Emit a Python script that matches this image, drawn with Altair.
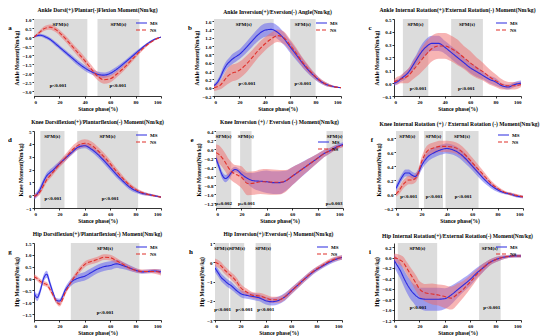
import altair as alt
import pandas as pd

# ---------------- data ----------------
STANCE = [0, 2.5, 5, 7.5, 10, 12.5, 15, 17.5, 20, 25, 30, 35, 40, 45, 50, 55, 60, 65, 70, 75, 80, 85, 90, 95, 100]
GROUPS = ["MS", "NS"]

A_MS = [0.02, 0.08, 0.1, 0.06, -0.02, -0.12, -0.25, -0.4, -0.55, -0.85, -1.15, -1.45, -1.7, -1.9, -2.05, -2.1, -2.0, -1.78, -1.5, -1.2, -0.9, -0.6, -0.33, -0.12, 0.0]
A_MS_SD = [0.05, 0.07, 0.08, 0.09, 0.1, 0.1, 0.11, 0.12, 0.12, 0.13, 0.14, 0.15, 0.15, 0.15, 0.15, 0.15, 0.15, 0.14, 0.13, 0.12, 0.1, 0.08, 0.06, 0.04, 0.02]
A_NS = [0.0, 0.15, 0.3, 0.45, 0.52, 0.55, 0.5, 0.4, 0.25, -0.1, -0.5, -0.9, -1.3, -1.75, -2.15, -2.35, -2.3, -2.05, -1.75, -1.4, -1.03, -0.68, -0.38, -0.15, 0.0]
A_NS_SD = [0.04, 0.08, 0.1, 0.12, 0.13, 0.14, 0.15, 0.15, 0.16, 0.17, 0.18, 0.2, 0.2, 0.22, 0.22, 0.22, 0.2, 0.18, 0.16, 0.14, 0.12, 0.1, 0.07, 0.04, 0.02]

B_MS = [0.05, 0.12, 0.25, 0.42, 0.55, 0.63, 0.7, 0.75, 0.8, 0.95, 1.12, 1.28, 1.38, 1.4, 1.33, 1.18, 0.98, 0.78, 0.58, 0.4, 0.25, 0.13, 0.06, 0.02, 0.0]
B_MS_SD = [0.04, 0.06, 0.08, 0.1, 0.1, 0.11, 0.12, 0.12, 0.12, 0.13, 0.14, 0.15, 0.16, 0.16, 0.16, 0.15, 0.14, 0.13, 0.11, 0.09, 0.07, 0.05, 0.04, 0.02, 0.01]
B_NS = [0.0, 0.02, 0.06, 0.15, 0.25, 0.32, 0.36, 0.38, 0.42, 0.55, 0.72, 0.9, 1.05, 1.17, 1.25, 1.2, 1.02, 0.82, 0.6, 0.42, 0.26, 0.14, 0.06, 0.02, 0.0]
B_NS_SD = [0.08, 0.08, 0.1, 0.14, 0.18, 0.2, 0.2, 0.2, 0.2, 0.2, 0.18, 0.17, 0.16, 0.15, 0.15, 0.15, 0.14, 0.13, 0.11, 0.09, 0.07, 0.05, 0.04, 0.02, 0.01]

C_MS = [0.0, 0.01, 0.03, 0.05, 0.07, 0.1, 0.14, 0.18, 0.22, 0.28, 0.31, 0.31, 0.28, 0.24, 0.2, 0.16, 0.12, 0.09, 0.06, 0.03, 0.01, -0.02, -0.03, -0.01, 0.0]
C_MS_SD = [0.02, 0.02, 0.02, 0.03, 0.03, 0.03, 0.04, 0.04, 0.05, 0.06, 0.06, 0.06, 0.05, 0.05, 0.05, 0.04, 0.04, 0.04, 0.03, 0.03, 0.03, 0.02, 0.02, 0.02, 0.02]
C_NS = [0.01, 0.02, 0.03, 0.04, 0.05, 0.07, 0.1, 0.13, 0.16, 0.22, 0.27, 0.29, 0.29, 0.27, 0.24, 0.2, 0.16, 0.12, 0.09, 0.05, 0.02, -0.01, -0.02, -0.02, -0.01]
C_NS_SD = [0.02, 0.03, 0.03, 0.04, 0.05, 0.06, 0.07, 0.08, 0.09, 0.1, 0.1, 0.1, 0.1, 0.1, 0.1, 0.09, 0.09, 0.08, 0.07, 0.06, 0.05, 0.04, 0.03, 0.03, 0.02]

D_MS = [-0.15, 0.1, 0.5, 1.05, 1.5, 1.75, 1.95, 2.2, 2.45, 2.9, 3.35, 3.75, 3.85, 3.6, 3.2, 2.7, 2.15, 1.6, 1.1, 0.65, 0.35, 0.15, 0.05, -0.05, -0.15]
D_MS_SD = [0.2, 0.22, 0.25, 0.25, 0.25, 0.25, 0.25, 0.22, 0.2, 0.2, 0.2, 0.2, 0.2, 0.22, 0.25, 0.25, 0.25, 0.25, 0.22, 0.2, 0.17, 0.13, 0.1, 0.08, 0.06]
D_NS = [-0.1, 0.05, 0.3, 0.75, 1.2, 1.5, 1.8, 2.1, 2.4, 2.95, 3.5, 3.9, 4.05, 3.9, 3.5, 3.0, 2.45, 1.85, 1.3, 0.8, 0.45, 0.2, 0.05, -0.05, -0.15]
D_NS_SD = [0.15, 0.18, 0.2, 0.22, 0.22, 0.22, 0.22, 0.22, 0.25, 0.28, 0.3, 0.3, 0.3, 0.3, 0.3, 0.3, 0.28, 0.25, 0.22, 0.18, 0.15, 0.12, 0.1, 0.08, 0.06]

E_MS = [-0.2, -0.4, -0.58, -0.65, -0.6, -0.5, -0.45, -0.48, -0.55, -0.65, -0.7, -0.71, -0.72, -0.74, -0.74, -0.7, -0.6, -0.5, -0.4, -0.3, -0.2, -0.1, -0.03, 0.05, 0.1]
E_MS_SD = [0.08, 0.08, 0.08, 0.08, 0.07, 0.07, 0.06, 0.06, 0.08, 0.12, 0.18, 0.22, 0.25, 0.25, 0.25, 0.22, 0.2, 0.17, 0.15, 0.12, 0.1, 0.08, 0.06, 0.05, 0.05]
E_NS = [-0.08, -0.12, -0.2, -0.3, -0.42, -0.5, -0.55, -0.58, -0.62, -0.76, -0.75, -0.72, -0.72, -0.73, -0.73, -0.7, -0.6, -0.5, -0.4, -0.3, -0.2, -0.1, -0.03, 0.04, 0.08]
E_NS_SD = [0.18, 0.2, 0.2, 0.2, 0.2, 0.2, 0.2, 0.22, 0.24, 0.26, 0.26, 0.27, 0.28, 0.28, 0.27, 0.24, 0.2, 0.17, 0.14, 0.12, 0.1, 0.08, 0.06, 0.05, 0.04]

F_MS = [0.08, 0.17, 0.25, 0.3, 0.3, 0.27, 0.25, 0.3, 0.4, 0.53, 0.59, 0.63, 0.65, 0.63, 0.58, 0.5, 0.4, 0.3, 0.2, 0.12, 0.06, 0.02, 0.0, -0.03, -0.04]
F_MS_SD = [0.05, 0.05, 0.05, 0.05, 0.05, 0.05, 0.05, 0.05, 0.06, 0.07, 0.07, 0.07, 0.07, 0.07, 0.07, 0.07, 0.06, 0.06, 0.05, 0.04, 0.03, 0.02, 0.02, 0.02, 0.02]
F_NS = [0.0, 0.05, 0.12, 0.17, 0.2, 0.2, 0.22, 0.3, 0.45, 0.62, 0.66, 0.68, 0.68, 0.67, 0.63, 0.55, 0.45, 0.35, 0.25, 0.15, 0.08, 0.03, 0.0, -0.02, -0.04]
F_NS_SD = [0.04, 0.05, 0.06, 0.06, 0.06, 0.06, 0.06, 0.06, 0.07, 0.08, 0.08, 0.08, 0.08, 0.08, 0.08, 0.08, 0.07, 0.06, 0.05, 0.04, 0.03, 0.02, 0.02, 0.02, 0.02]

G_MS = [-0.6, -0.8, -0.5, 0.0, 0.18, -0.2, -0.6, -0.92, -0.95, -0.45, -0.12, 0.02, 0.1, 0.25, 0.4, 0.5, 0.55, 0.62, 0.55, 0.45, 0.35, 0.28, 0.3, 0.32, 0.28]
G_MS_SD = [0.15, 0.15, 0.15, 0.15, 0.15, 0.15, 0.12, 0.1, 0.1, 0.12, 0.15, 0.17, 0.18, 0.18, 0.18, 0.18, 0.18, 0.17, 0.15, 0.12, 0.1, 0.08, 0.08, 0.08, 0.1]
G_NS = [0.08, 0.0, -0.12, -0.2, -0.25, -0.45, -0.7, -0.95, -1.08, -0.55, -0.08, 0.3, 0.6, 0.72, 0.8, 0.9, 0.88, 0.75, 0.6, 0.45, 0.35, 0.3, 0.3, 0.3, 0.25]
G_NS_SD = [0.1, 0.1, 0.1, 0.1, 0.1, 0.1, 0.1, 0.1, 0.1, 0.1, 0.1, 0.12, 0.12, 0.12, 0.12, 0.12, 0.12, 0.12, 0.1, 0.1, 0.08, 0.08, 0.08, 0.1, 0.12]

H_MS = [-0.3, -0.55, -0.8, -0.95, -1.1, -1.2, -1.35, -1.5, -1.62, -1.72, -1.78, -1.85, -2.0, -2.05, -1.98, -1.8, -1.5, -1.2, -0.9, -0.62, -0.38, -0.18, 0.0, 0.15, 0.25]
H_MS_SD = [0.2, 0.2, 0.2, 0.2, 0.2, 0.2, 0.18, 0.18, 0.18, 0.18, 0.18, 0.18, 0.2, 0.2, 0.2, 0.2, 0.18, 0.16, 0.15, 0.14, 0.13, 0.12, 0.12, 0.12, 0.12]
H_NS = [0.0, -0.08, -0.2, -0.4, -0.55, -0.7, -0.85, -1.05, -1.3, -1.55, -1.72, -1.75, -1.85, -1.95, -1.95, -1.8, -1.5, -1.2, -0.9, -0.6, -0.35, -0.15, 0.05, 0.18, 0.25]
H_NS_SD = [0.2, 0.2, 0.2, 0.2, 0.2, 0.2, 0.2, 0.2, 0.2, 0.18, 0.16, 0.16, 0.16, 0.16, 0.16, 0.16, 0.16, 0.15, 0.14, 0.13, 0.12, 0.12, 0.12, 0.12, 0.12]

I_MS = [-0.05, -0.15, -0.25, -0.38, -0.5, -0.6, -0.68, -0.74, -0.78, -0.8, -0.8, -0.8, -0.79, -0.72, -0.62, -0.52, -0.42, -0.3, -0.2, -0.1, -0.04, 0.0, 0.02, 0.03, 0.03]
I_MS_SD = [0.12, 0.14, 0.15, 0.16, 0.17, 0.18, 0.18, 0.2, 0.2, 0.22, 0.22, 0.22, 0.2, 0.18, 0.15, 0.13, 0.12, 0.1, 0.08, 0.06, 0.05, 0.04, 0.03, 0.03, 0.03]
I_NS = [0.0, -0.02, -0.05, -0.1, -0.2, -0.3, -0.4, -0.5, -0.6, -0.68, -0.7, -0.72, -0.75, -0.78, -0.7, -0.6, -0.47, -0.33, -0.2, -0.1, -0.04, 0.0, 0.02, 0.03, 0.03]
I_NS_SD = [0.08, 0.09, 0.1, 0.11, 0.12, 0.13, 0.14, 0.15, 0.15, 0.17, 0.2, 0.2, 0.22, 0.22, 0.2, 0.16, 0.13, 0.1, 0.08, 0.06, 0.05, 0.04, 0.03, 0.03, 0.03]

TITLES = [
    "Ankle Dorsi(+)/Plantar(-)Flexion Moment(Nm/kg)",
    "Ankle Inversion(+)/Eversion(-) Angle(Nm/kg)",
    "Ankle Internal Rotation(+)/External Rotation(-) Moment(Nm/kg)",
    "Knee Dorsiflexion(+)/Plantarflexion(-) Moment(Nm/kg)",
    "Knee Inversion (+) / Eversion (-) Moment(Nm/kg)",
    "Knee Internal Rotation (+) / External Rotation (-) Moment(Nm/kg)",
    "Hip Dorsiflexion(+)/Plantarflexion(-) Moment(Nm/kg)",
    "Hip Inversion(+)/Eversion(-) Moment(Nm/kg)",
    "Hip Internal Rotation(+)/External Rotation(-) Moment(Nm/kg)",
]
LETTERS = ["a", "b", "c", "d", "e", "f", "g", "h", "i"]
YTITLES = ["Ankle Moment(Nm/kg)"] * 3 + ["Knee Moment(Nm/kg)"] * 3 + ["Hip Moment(Nm/kg)"] * 3
YDOMAINS = [[-3.25, 1.0], [-0.2, 1.65], [-0.1, 0.5], [-1, 5], [-1.3, 0.4], [-0.2, 0.9], [-1.75, 1.5], [-3, 1], [-1.2, 0.28]]
YTICKS = [
    [-3.0, -2.5, -2.0, -1.5, -1.0, -0.5, 0.0, 0.5, 1.0],
    [-0.2, 0.0, 0.2, 0.4, 0.6, 0.8, 1.0, 1.2, 1.4, 1.6],
    [-0.1, 0.0, 0.1, 0.2, 0.3, 0.4, 0.5],
    [-1, 0, 1, 2, 3, 4, 5],
    [-1.2, -1.0, -0.8, -0.6, -0.4, -0.2, 0.0, 0.2, 0.4],
    [-0.2, 0.0, 0.2, 0.4, 0.6, 0.8],
    [-1.5, -1.0, -0.5, 0.0, 0.5, 1.0, 1.5],
    [-3, -2, -1, 0, 1],
    [-1.2, -1.0, -0.8, -0.6, -0.4, -0.2, 0.0, 0.2],
]
YFORMATS = [".1f", ".1f", ".1f", "d", ".1f", ".1f", ".1f", "d", ".1f"]
SPM_START = [[0, 50], [0, 60], [7, 45], [5, 34], [0, 19, 87], [0, 22, 39], [29], [0, 12, 32], [3, 67]]
SPM_END = [[42, 83], [47, 80], [27, 70], [24, 82], [12, 28, 100], [18, 37, 65], [83], [11, 23, 44], [34, 84]]
P_TEXT = [
    ["p<0.001", "p<0.001"], ["p<0.001", "p<0.001"], ["p<0.001", "p<0.001"],
    ["p<0.001", "p<0.001"], ["p=0.002", "p=0.001", "p=0.003"], ["p<0.001", "p<0.001", "p<0.001"],
    ["p<0.001"], ["p<0.001", "p<0.001", "p<0.001"], ["p<0.001", "p<0.001"],
]
P_X = [[19, 66], [26, 70], [19, 57], [15, 60], [6, 24, 93], [10, 30, 53], [56], [6, 23, 40], [19, 77]]
P_YFRAC = [0.86, 0.83, 0.9, 0.87, 0.94, 0.85, 0.89, 0.86, 0.83]
LEGEND_TOP = [4, 4, 4, 4, 11, 4, 4, 4, 4]

SERIES = [
    (A_MS, A_MS_SD, A_NS, A_NS_SD), (B_MS, B_MS_SD, B_NS, B_NS_SD), (C_MS, C_MS_SD, C_NS, C_NS_SD),
    (D_MS, D_MS_SD, D_NS, D_NS_SD), (E_MS, E_MS_SD, E_NS, E_NS_SD), (F_MS, F_MS_SD, F_NS, F_NS_SD),
    (G_MS, G_MS_SD, G_NS, G_NS_SD), (H_MS, H_MS_SD, H_NS, H_NS_SD), (I_MS, I_MS_SD, I_NS, I_NS_SD),
]

# ---------------- style ----------------
W, H = 127, 77
FONT = "Liberation Serif"
LINE_COL = ["#2a2ae0", "#e0302a"]
BAND_COL = ["#5858f2", "#f06a6a"]
DASHES = [[1, 0], [4, 2]]
GRAY = "#dcdcdc"


def make_panel(k):
    ms, ms_sd, ns, ns_sd = SERIES[k]
    rows = []
    for g, m, s in (("MS", ms, ms_sd), ("NS", ns, ns_sd)):
        for x, v, d in zip(STANCE, m, s):
            rows.append({"x": x, "g": g, "m": v, "lo": v - d, "hi": v + d})
    df = pd.DataFrame(rows)
    xs = alt.Scale(domain=[0, 100], nice=False)
    ys = alt.Scale(domain=YDOMAINS[k], nice=False, zero=False)
    xaxis = alt.Axis(values=[0, 20, 40, 60, 80, 100], title="Stance phase(%)", format="d",
                     labelOverlap=False, labelSeparation=0, labelFontSize=5)
    yaxis = alt.Axis(values=YTICKS[k], title=YTITLES[k], format=YFORMATS[k],
                     labelOverlap=False, labelSeparation=0, labelFontSize=5)

    spm = pd.DataFrame({"s": SPM_START[k], "e": SPM_END[k]})
    spm["mid"] = (spm["s"] + spm["e"]) / 2
    spm["lab"] = "SPM{t}"
    rect = alt.Chart(spm).mark_rect(color=GRAY).encode(
        x=alt.X("s:Q", scale=xs, axis=xaxis), x2="e:Q",
        y=alt.value(0), y2=alt.value(H))
    spm_txt = alt.Chart(spm).mark_text(font=FONT, fontSize=5, fontWeight="bold", baseline="middle").encode(
        x=alt.X("mid:Q", scale=xs, axis=xaxis), y=alt.value(5), text="lab:N")

    bands = alt.Chart(df).mark_area(opacity=0.5, interpolate="monotone", clip=True).encode(
        x=alt.X("x:Q", scale=xs, axis=xaxis),
        y=alt.Y("lo:Q", scale=ys, axis=yaxis), y2="hi:Q",
        fill=alt.Fill("g:N", scale=alt.Scale(domain=GROUPS, range=BAND_COL), legend=None))
    lines = alt.Chart(df).mark_line(strokeWidth=1.1, interpolate="monotone", clip=True).encode(
        x=alt.X("x:Q", scale=xs, axis=xaxis), y=alt.Y("m:Q", scale=ys, axis=yaxis),
        stroke=alt.Stroke("g:N", scale=alt.Scale(domain=GROUPS, range=LINE_COL), legend=None),
        strokeDash=alt.StrokeDash("g:N", scale=alt.Scale(domain=GROUPS, range=DASHES), legend=None))

    pdf = pd.DataFrame({"x": P_X[k], "t": P_TEXT[k]})
    p_txt = alt.Chart(pdf).mark_text(font=FONT, fontSize=5, fontWeight="bold", baseline="middle").encode(
        x=alt.X("x:Q", scale=xs, axis=xaxis), y=alt.value(P_YFRAC[k] * H), text="t:N")

    one = pd.DataFrame({"z": [0]})
    leg = []
    for i, g in enumerate(GROUPS):
        yy = LEGEND_TOP[k] + 7 * i
        leg.append(alt.Chart(one).mark_rule(strokeWidth=1.1, strokeDash=DASHES[i], color=LINE_COL[i]).encode(
            x=alt.value(W - 25), x2=alt.value(W - 14), y=alt.value(yy)))
        leg.append(alt.Chart(one).mark_text(font=FONT, fontSize=5, fontWeight="bold", align="left",
                                            baseline="middle").encode(
            x=alt.value(W - 11), y=alt.value(yy), text=alt.value(g)))
    letter = alt.Chart(one).mark_text(font=FONT, fontSize=7, fontWeight="bold", baseline="middle").encode(
        x=alt.value(-24), y=alt.value(9), text=alt.value(LETTERS[k]))

    return alt.layer(rect, bands, lines, spm_txt, p_txt, *leg, letter).properties(
        width=W, height=H,
        title=alt.TitleParams(TITLES[k], font=FONT, fontSize=5.6, fontWeight="bold", offset=3, anchor="middle"))


panels = [make_panel(k) for k in range(9)]
rows = [alt.hconcat(*panels[r * 3:(r + 1) * 3], spacing=26) for r in range(3)]
chart = alt.vconcat(*rows, spacing=8).configure(padding=0).configure_view(stroke=None).configure_axis(
    labelFont=FONT, titleFont=FONT, labelFontSize=5, titleFontSize=5.5, labelFontWeight="bold",
    titleFontWeight="bold", grid=False, domainColor="#000", tickColor="#000", labelColor="#000",
    titleColor="#000", tickSize=2, labelPadding=1, titlePadding=2, domainWidth=0.8, tickWidth=0.8,
    labelOverlap=False
)

chart.save("out.html", embed_options={"renderer": "svg", "actions": False})
